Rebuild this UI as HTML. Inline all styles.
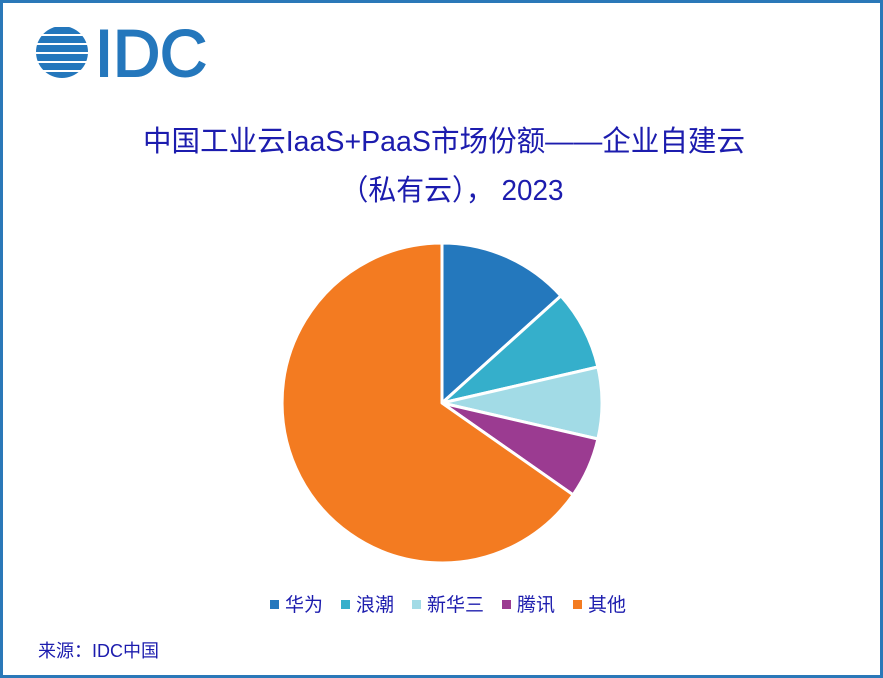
<!DOCTYPE html>
<html><head><meta charset="utf-8"><style>
html,body{margin:0;padding:0;background:#fff;}
#c{position:relative;width:883px;height:678px;box-sizing:border-box;border:3px solid #2a78b8;overflow:hidden;font-family:"Liberation Sans","Noto Sans CJK SC",sans-serif;}
</style></head><body>
<div id="c">
<svg width="883" height="678" style="position:absolute;left:-3px;top:-3px" xmlns="http://www.w3.org/2000/svg">
<defs><clipPath id="cc"><circle cx="62" cy="52" r="26"/></clipPath></defs>
<g clip-path="url(#cc)" fill="#2477bc">
<rect x="30" y="27" width="60" height="7"/>
<rect x="30" y="36" width="60" height="7"/>
<rect x="30" y="45" width="60" height="7"/>
<rect x="30" y="54" width="60" height="7"/>
<rect x="30" y="63" width="60" height="7"/>
<rect x="30" y="72" width="60" height="7"/>
</g>
<text x="95" y="76" font-family="Liberation Sans, sans-serif" font-size="66" fill="#2477bc" stroke="#2477bc" stroke-width="2" textLength="112" lengthAdjust="spacingAndGlyphs">IDC</text>
<text x="444" y="151" text-anchor="middle" font-family="Liberation Sans, Noto Sans CJK SC, sans-serif" font-size="29" fill="#1c1cae" textLength="602" lengthAdjust="spacingAndGlyphs">中国工业云IaaS+PaaS市场份额——企业自建云</text>
<text x="452" y="200" text-anchor="middle" font-family="Liberation Sans, Noto Sans CJK SC, sans-serif" font-size="29" fill="#1c1cae" textLength="223" lengthAdjust="spacingAndGlyphs">（私有云）， 2023</text>
<g stroke="#fff" stroke-width="3" stroke-linejoin="round">
<path d="M442,403 L442,243 A160,160 0 0 1 560.9,295.9 Z" fill="#2478bd"/>
<path d="M442,403 L560.9,295.9 A160,160 0 0 1 597.9,367 Z" fill="#35afcb"/>
<path d="M442,403 L597.9,367 A160,160 0 0 1 597.9,439 Z" fill="#a2dbe6"/>
<path d="M442,403 L597.9,439 A160,160 0 0 1 573.1,494.8 Z" fill="#9b3b91"/>
<path d="M442,403 L573.1,494.8 A160,160 0 1 1 442,243 Z" fill="#f37b21"/>
</g>
<g font-family="Liberation Sans, Noto Sans CJK SC, sans-serif" font-size="19" fill="#1c1cae">
<rect x="270" y="600" width="9" height="9" fill="#2478bd"/><text x="285" y="611">华为</text>
<rect x="341" y="600" width="9" height="9" fill="#35afcb"/><text x="356" y="611">浪潮</text>
<rect x="412" y="600" width="9" height="9" fill="#a2dbe6"/><text x="427" y="611">新华三</text>
<rect x="502" y="600" width="9" height="9" fill="#9b3b91"/><text x="517" y="611">腾讯</text>
<rect x="573" y="600" width="9" height="9" fill="#f37b21"/><text x="588" y="611">其他</text>
<text x="38" y="657" font-size="18">来源：IDC中国</text>
</g>
</svg>
</div>
</body></html>
